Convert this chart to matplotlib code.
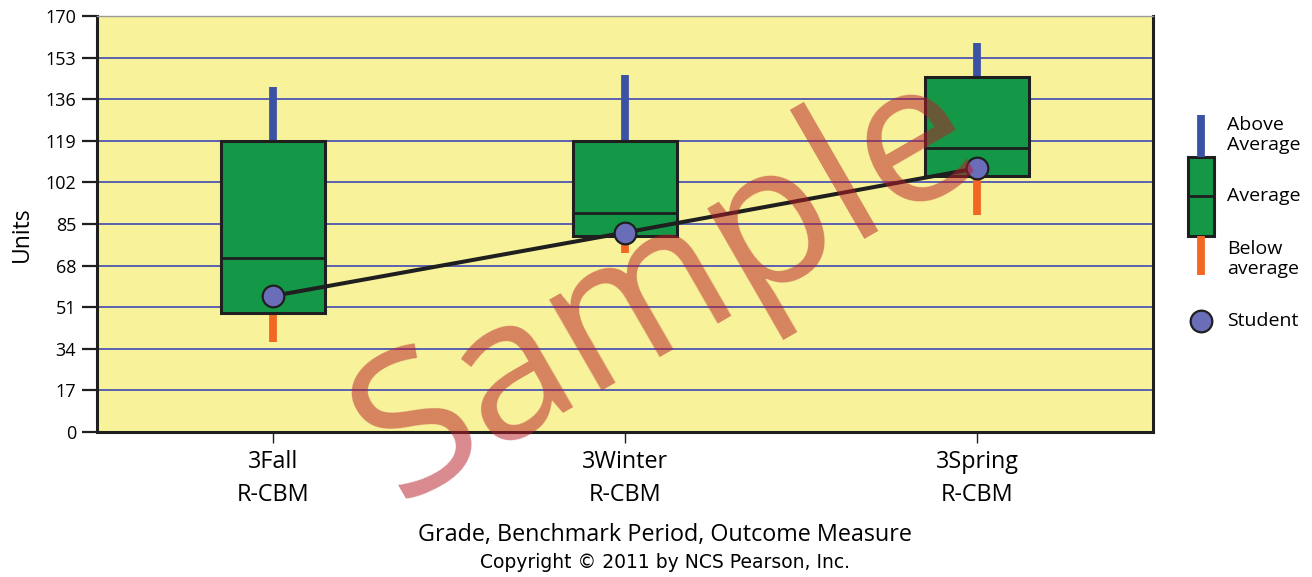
import matplotlib
matplotlib.use("Agg")
import matplotlib.pyplot as plt
from matplotlib.patches import Rectangle

plt.rcParams['font.family'] = ['Open Sans', 'DejaVu Sans']

# data
categories = ['3Fall\nR-CBM', '3Winter\nR-CBM', '3Spring\nR-CBM']
box_low = [48.5, 80.2, 104.7]
box_high = [119.0, 119.0, 145.2]
box_median = [71.0, 89.4, 115.9]
whisker_high = [141.1, 145.9, 158.8]
whisker_low = [36.7, 73.3, 88.7]
student = [55.6, 81.5, 107.8]
yticks = [0, 17, 34, 51, 68, 85, 102, 119, 136, 153, 170]

# colours
bg_yellow = '#f8f39b'
box_green = '#149848'
above_blue = '#3a53a4'
below_orange = '#f26722'
grid_blue = '#5c60b0'
student_purple = '#6a6db8'
ink = '#1f1f1f'

W, H = 1312, 577
fig = plt.figure(figsize=(W / 100, H / 100), dpi=100)
ax = fig.add_axes([97 / W, 1 - 432 / H, (1153 - 97) / W, (432 - 16) / H])
ax.set_facecolor(bg_yellow)

x = list(range(len(categories)))
bw = 0.296

for yv in yticks[1:-1]:
    ax.axhline(yv, color=grid_blue, lw=1.4, zorder=1)

for i in x:
    ax.vlines(i, box_high[i], whisker_high[i], color=above_blue, lw=5.6, zorder=2)
    ax.vlines(i, whisker_low[i], box_low[i], color=below_orange, lw=5.6, zorder=2)
    ax.add_patch(Rectangle((i - bw / 2, box_low[i]), bw, box_high[i] - box_low[i],
                           facecolor=box_green, edgecolor=ink, lw=2.2, zorder=3))
    ax.hlines(box_median[i], i - bw / 2, i + bw / 2, color=ink, lw=2.0, zorder=4)

ax.plot(x, student, color=ink, lw=2.9, zorder=5, solid_capstyle='butt')
ax.plot(x, student, 'o', ms=15.6, mfc=student_purple, mec=ink, mew=1.6, zorder=6)

ax.set_xlim(-0.5, 2.5)
ax.set_ylim(0, 170)
ax.set_yticks(yticks)
ax.set_yticklabels([str(v) for v in yticks], fontsize=13)
ax.set_xticks(x)
ax.set_xticklabels(categories, fontsize=16.8, linespacing=1.5)
ax.tick_params(axis='y', length=11, width=1.6, color=ink, pad=4)
ax.tick_params(axis='x', length=8, width=1.0, color=ink, pad=5)

for side in ['left', 'bottom', 'right']:
    ax.spines[side].set_color(ink)
    ax.spines[side].set_linewidth(2.2)
ax.spines['top'].set_color('#9a9a9a')
ax.spines['top'].set_linewidth(1.0)

fig.text(22 / W, 1 - 234 / H, 'Units', rotation=90, fontsize=16.5, ha='center', va='center')
fig.text(665 / W, 1 - 535 / H, 'Grade, Benchmark Period, Outcome Measure',
         fontsize=16.8, ha='center', va='center')
fig.text(665 / W, 1 - 563 / H, 'Copyright \u00a9 2011 by NCS Pearson, Inc.',
         fontsize=13.5, ha='center', va='center', family='DejaVu Sans')

# legend drawn in pixel space at the right
lg = fig.add_axes([1160 / W, 0, (W - 1160) / W, 1])
lg.set_xlim(1160, W)
lg.set_ylim(H, 0)
lg.axis('off')
lg.vlines(1201, 115, 157, color=above_blue, lw=5.6)
lg.vlines(1201, 236, 275, color=below_orange, lw=5.6)
lg.add_patch(Rectangle((1188, 157), 26, 79, facecolor=box_green, edgecolor=ink, lw=2.2))
lg.hlines(196, 1188, 1214, color=ink, lw=2.0)
lg.plot([1201], [321], 'o', ms=15.6, mfc=student_purple, mec=ink, mew=1.6)
for ty, txt in [(135, 'Above\nAverage'), (196, 'Average'), (259, 'Below\naverage'), (321, 'Student')]:
    lg.text(1227, ty, txt, fontsize=14, ha='left', va='center', linespacing=1.2)

# watermark
fig.text(668 / W, 1 - 288 / H, 'Sample', fontsize=142, color='#b61d27', alpha=0.52,
         rotation=30, ha='center', va='center', rotation_mode='anchor', zorder=10)

fig.savefig('out.png', dpi=100)
